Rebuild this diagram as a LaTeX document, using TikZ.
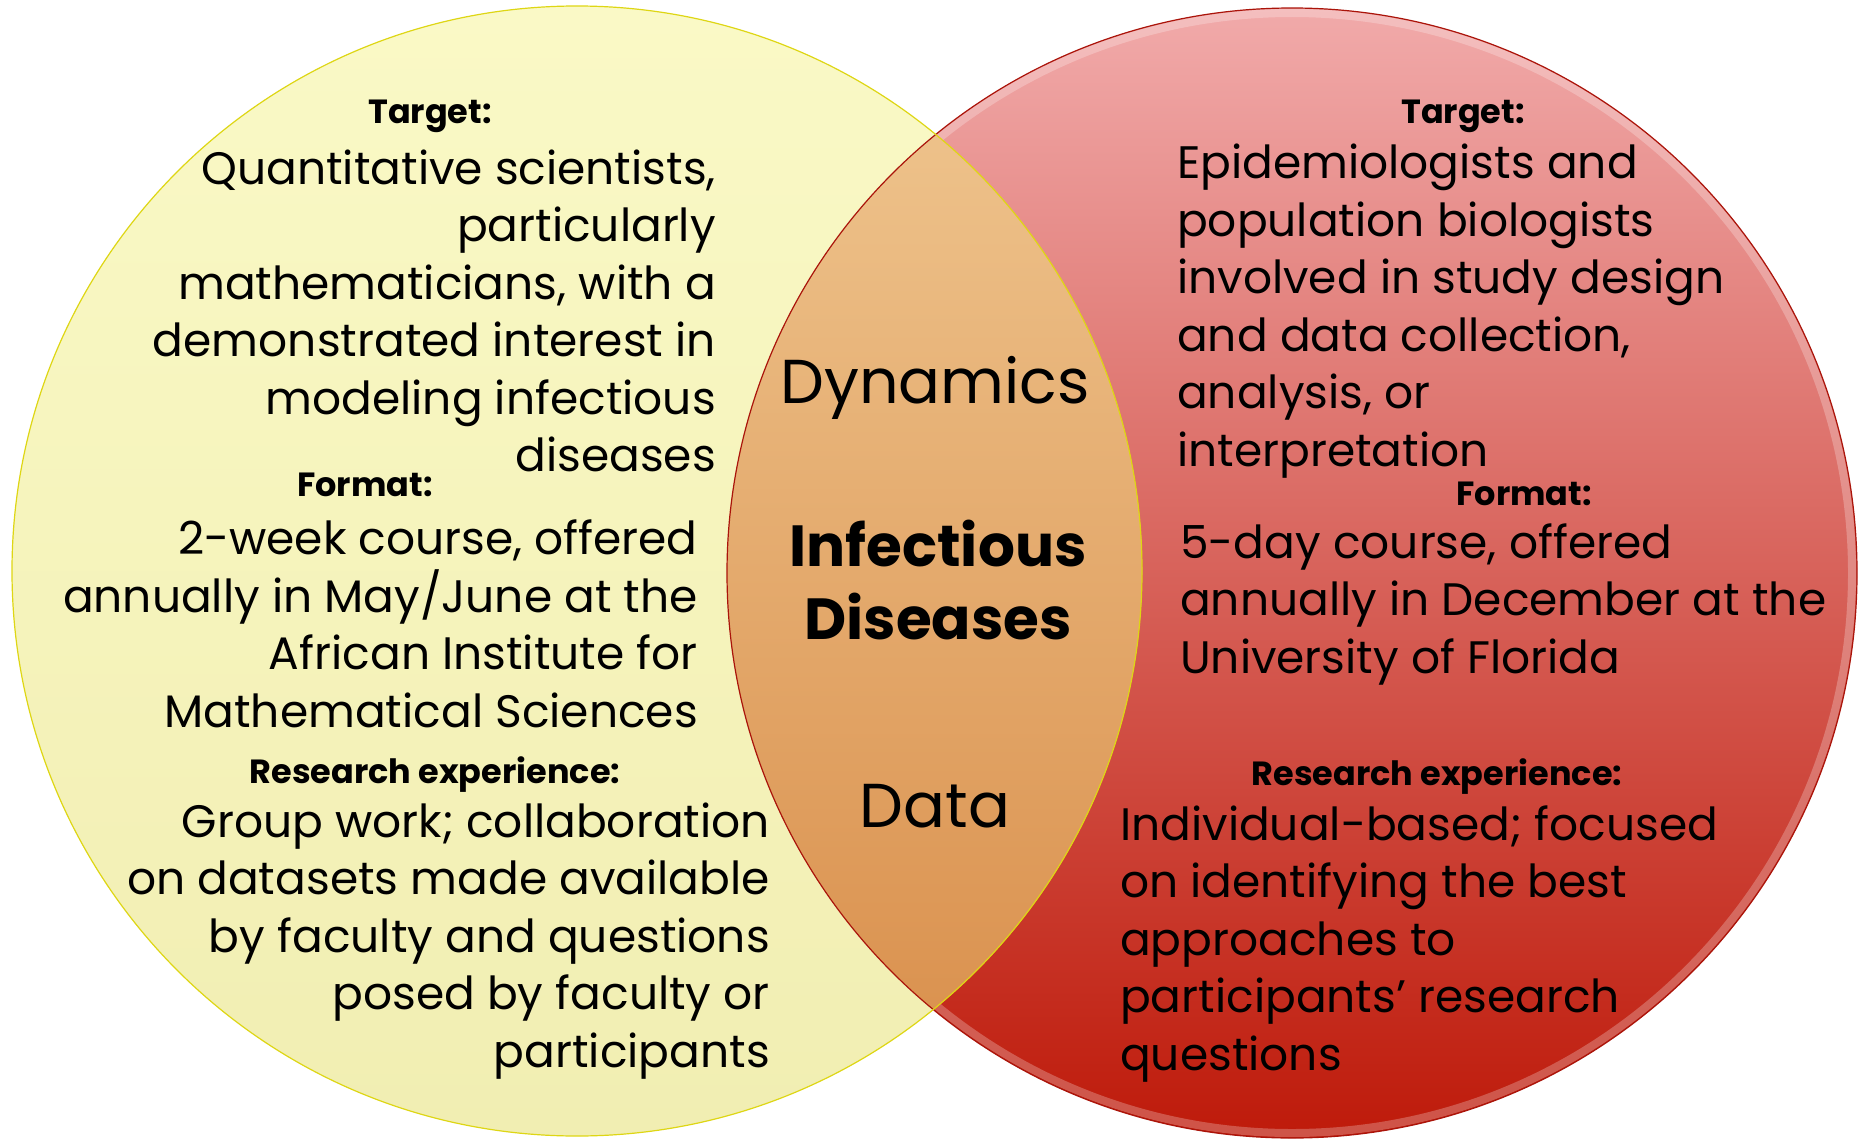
\documentclass[tikz,border=0pt]{standalone}
\usepackage{fontspec}
\setmainfont{Poppins}
\usepackage{tikz}
\usetikzlibrary{positioning}

\definecolor{lemontop}{RGB}{250, 249, 198}
\definecolor{lemonbot}{RGB}{241, 238, 178}
\definecolor{lemonline}{RGB}{222, 214, 20}
\definecolor{rosetop}{RGB}{241, 170, 170}
\definecolor{rosemid}{RGB}{222, 112, 108}
\definecolor{rosebot}{RGB}{190, 26, 10}
\definecolor{roseline}{RGB}{170, 20, 10}
\definecolor{ambertop}{RGB}{240, 200, 146}
\definecolor{amberbot}{RGB}{216, 140, 72}

\begin{document}
\begin{tikzpicture}[x=1pt, y=-1pt,
  headtxt/.style={font=\bfseries\fontsize{33.5}{40}\selectfont, inner sep=0pt},
  bodytxt/.style={font=\fontsize{45.5}{57.5}\selectfont, inner sep=0pt},
  bigtxt/.style={font=\fontsize{62}{73}\selectfont, inner sep=0pt}]
  \useasboundingbox (0,0) rectangle (1862,1140);

  % Circles
  \coordinate (quantc) at (577,571);
  \coordinate (epic) at (1292,573);
  \shade[top color=rosetop, middle color=rosemid, bottom color=rosebot] (epic) circle (565);
  \draw[white, opacity=0.25, line width=8pt] (epic) circle (560);
  \shade[top color=lemontop, bottom color=lemonbot] (quantc) circle (565);
  \begin{scope}
    \clip (quantc) circle (565);
    \shade[top color=ambertop, bottom color=amberbot] (epic) circle (565);
  \end{scope}
  \draw[roseline, line width=1.2pt] (epic) circle (565);
  \draw[lemonline, line width=1.2pt] (quantc) circle (565);

  % Left side
  \node[headtxt] (ltarget) at (430,116) {Target:};
  \node[bodytxt, align=right, anchor=east] (ltargetbody) at (716,311) {Quantitative scientists,\\particularly\\mathematicians, with a\\demonstrated interest in\\modeling infectious\\diseases};
  \node[headtxt] (lformat) at (365,485) {Format:};
  \node[bodytxt, align=right, anchor=east] (lformatbody) at (698,624) {2-week course, offered\\annually in May/June at the\\African Institute for\\Mathematical Sciences};
  \node[headtxt] (lresearch) at (435,775) {Research experience:};
  \node[bodytxt, align=right, anchor=east] (lresearchbody) at (770,941) {Group work; collaboration\\on datasets made available\\by faculty and questions\\posed by faculty or\\participants};

  % Middle
  \node[bigtxt] (dynamics) at (935,388) {Dynamics};
  \node[bigtxt, font=\bfseries\fontsize{58}{73}\selectfont, align=center] (infect) at (938,580) {Infectious\\Diseases};
  \node[bigtxt] (data) at (935,806) {Data};

  % Right side
  \node[headtxt] (rtarget) at (1463,116) {Target:};
  \node[bodytxt, align=left, anchor=west] (rtargetbody) at (1177,311) {Epidemiologists and\\population biologists\\involved in study design\\and data collection,\\analysis, or\\interpretation};
  \node[headtxt] (rformat) at (1524,494) {Format:};
  \node[bodytxt, align=left, anchor=west] (rformatbody) at (1180,604) {5-day course, offered\\annually in December at the\\University of Florida};
  \node[headtxt] (rresearch) at (1437,777) {Research experience:};
  \node[bodytxt, align=left, anchor=west] (rresearchbody) at (1120,944) {Individual-based; focused\\on identifying the best\\approaches to\\participants’ research\\questions};
\end{tikzpicture}
\end{document}
